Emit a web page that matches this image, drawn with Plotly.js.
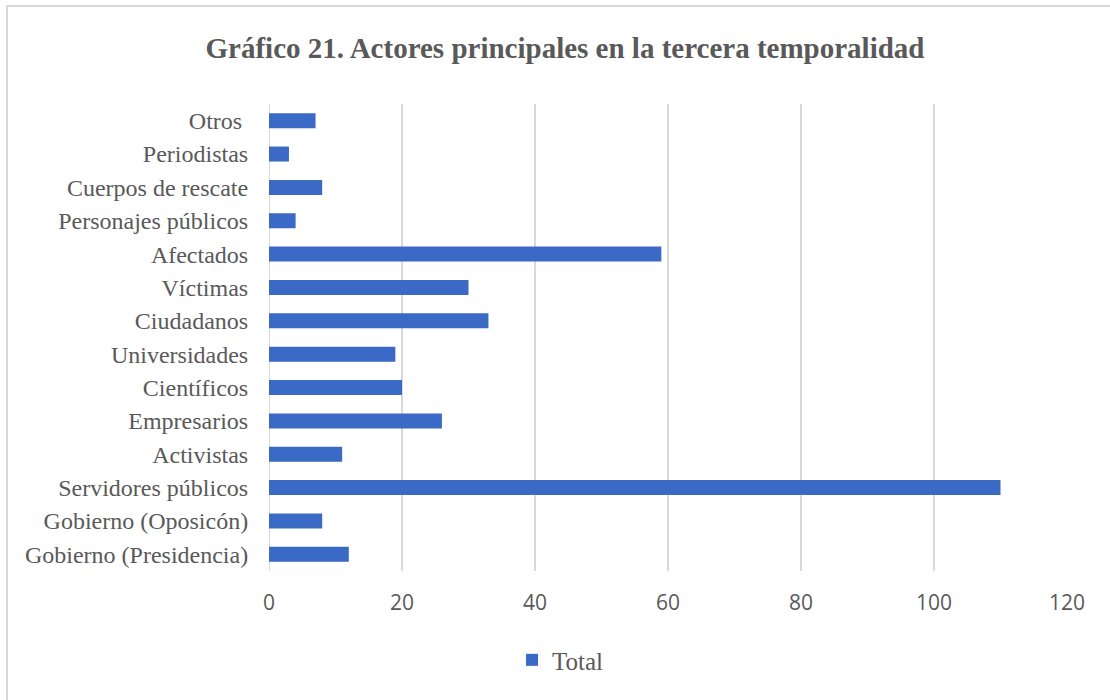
<!DOCTYPE html>
<html>
<head>
<meta charset="utf-8">
<script src="https://cdn.plot.ly/plotly-3.0.1.min.js"></script>
<style>
html,body{margin:0;padding:0;background:#fff;overflow:hidden;}
#frame{position:absolute;left:6px;top:5px;width:1200px;height:800px;border-top:2px solid #d9d9d9;border-left:2px solid #d9d9d9;pointer-events:none;z-index:5;}
#chart{position:absolute;left:0;top:0;width:1110px;height:700px;}
</style>
</head>
<body>
<div id="chart"></div>
<div id="frame"></div>
<script>
const categories = [
  "Gobierno (Presidencia)", "Gobierno (Oposicón)", "Servidores públicos", "Activistas",
  "Empresarios", "Científicos", "Universidades", "Ciudadanos", "Víctimas", "Afectados",
  "Personajes públicos", "Cuerpos de rescate", "Periodistas", "Otros "
];
const totals = [12, 8, 110, 11, 26, 20, 19, 33, 30, 59, 4, 8, 3, 7];
const seriesName = "Total";
const xTicks = [0, 20, 40, 60, 80, 100, 120];

const trace = {
  type: 'bar',
  orientation: 'h',
  name: seriesName,
  y: categories,
  x: totals,
  marker: {color: '#3a69c6', line: {width: 0}},
  showlegend: true,
  hoverinfo: 'x+y'
};

const layout = {
  width: 1110,
  height: 700,
  paper_bgcolor: '#ffffff',
  plot_bgcolor: '#ffffff',
  margin: {l: 269, r: 43, t: 104, b: 129, pad: 0},
  title: {
    text: '<b>Gráfico 21. Actores principales en la tercera temporalidad</b>',
    font: {family: 'Liberation Serif, Times New Roman, serif', size: 29, color: '#595959'},
    x: 0.509, xref: 'container', xanchor: 'center',
    y: 0.931, yref: 'container', yanchor: 'middle'
  },
  bargap: 0.55,
  xaxis: {
    range: [0, 120],
    tickvals: xTicks,
    ticktext: xTicks.map(String),
    showgrid: true,
    gridcolor: '#d9d9d9',
    gridwidth: 1.5,
    zeroline: false,
    showline: false,
    ticks: 'outside',
    ticklen: 13,
    tickcolor: 'rgba(0,0,0,0)',
    tickfont: {family: 'Open Sans, Liberation Sans, sans-serif', size: 21, color: '#595959'},
    fixedrange: true
  },
  yaxis: {
    type: 'category',
    categoryorder: 'array',
    categoryarray: categories,
    showgrid: false,
    zeroline: false,
    showline: false,
    ticks: 'outside',
    ticklen: 15,
    tickcolor: 'rgba(0,0,0,0)',
    tickfont: {family: 'Liberation Serif, Times New Roman, serif', size: 24, color: '#595959'},
    fixedrange: true
  },
  shapes: [{
    type: 'line', xref: 'x', yref: 'paper', x0: 0, x1: 0, y0: 0, y1: 1,
    line: {color: '#d9d9d9', width: 2}, layer: 'below'
  }],
  showlegend: true,
  legend: {
    orientation: 'h',
    x: 0.505, xref: 'container', xanchor: 'center',
    y: 0.057, yref: 'container', yanchor: 'middle',
    font: {family: 'Liberation Serif, Times New Roman, serif', size: 25, color: '#595959'},
    itemwidth: 30,
    bgcolor: 'rgba(0,0,0,0)'
  }
};

Plotly.newPlot('chart', [trace], layout, {displayModeBar: false, staticPlot: true});
</script>
</body>
</html>
